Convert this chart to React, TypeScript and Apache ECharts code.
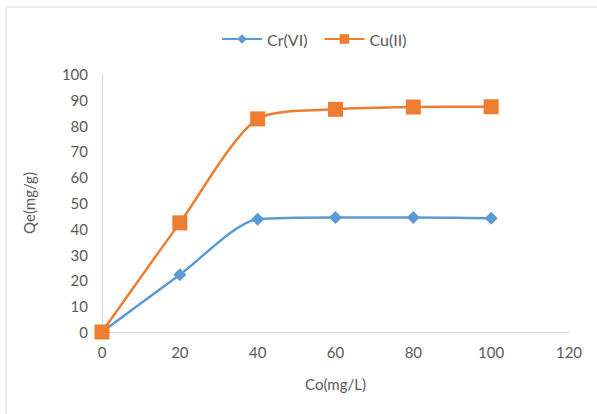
import React, { useEffect, useRef } from "react";
import * as echarts from "echarts";

const xValues = [0, 20, 40, 60, 80, 100];
const crValues = [0, 22.2, 43.7, 44.4, 44.4, 44.1];
const cuValues = [0, 42.3, 82.6, 86.3, 87.2, 87.3];

const FONT = "Lato, 'Open Sans', sans-serif";
const TEXT = "#595959";

export default function App() {
  const ref = useRef<HTMLDivElement>(null);
  useEffect(() => {
    if (!ref.current) return;
    const chart = echarts.init(ref.current, undefined, { renderer: "svg" });
    chart.setOption({
      animation: false,
      backgroundColor: "#ffffff",
      textStyle: { fontFamily: FONT },
      graphic: [
        {
          type: "rect",
          shape: { x: 6, y: 7, width: 620, height: 440 },
          style: { fill: "none", stroke: "#d9d9d9", lineWidth: 1 },
          silent: true,
        },
      ],
      legend: {
        top: 26,
        left: 216,
        itemWidth: 40,
        itemHeight: 12,
        itemGap: 16,
        textStyle: { color: TEXT, fontSize: 16, fontFamily: FONT },
        data: ["Cr(VI)", "Cu(II)"],
      },
      grid: { left: 102, right: 28, top: 74, bottom: 82, containLabel: false },
      xAxis: {
        type: "value",
        min: 0,
        max: 120,
        interval: 20,
        name: "Co(mg/L)",
        nameLocation: "middle",
        nameGap: 44,
        nameTextStyle: { color: TEXT, fontSize: 15, fontFamily: FONT },
        axisLine: { show: true, lineStyle: { color: "#d9d9d9", width: 1 } },
        axisTick: { show: false },
        splitLine: { show: false },
        axisLabel: { color: TEXT, fontSize: 15, margin: 12, fontFamily: FONT },
      },
      yAxis: {
        type: "value",
        min: 0,
        max: 100,
        interval: 10,
        name: "Qe(mg/g)",
        nameLocation: "middle",
        nameGap: 66,
        nameRotate: 90,
        nameTextStyle: { color: TEXT, fontSize: 15, fontFamily: FONT },
        axisLine: { show: true, lineStyle: { color: "#d9d9d9", width: 1 } },
        axisTick: { show: false },
        splitLine: { show: false },
        axisLabel: { color: TEXT, fontSize: 15, margin: 14, fontFamily: FONT },
      },
      series: [
        {
          name: "Cr(VI)",
          type: "line",
          data: xValues.map((x, i) => [x, crValues[i]]),
          smooth: 0.25,
          symbol: "diamond",
          symbolSize: 13,
          lineStyle: { color: "#5B9BD5", width: 2.5 },
          itemStyle: { color: "#5B9BD5" },
          z: 3,
        },
        {
          name: "Cu(II)",
          type: "line",
          data: xValues.map((x, i) => [x, cuValues[i]]),
          smooth: 0.25,
          symbol: "rect",
          symbolSize: 15,
          lineStyle: { color: "#ED7D31", width: 2.5 },
          itemStyle: { color: "#ED7D31" },
          z: 4,
        },
      ],
    });
    return () => chart.dispose();
  }, []);
  return (
    <div
      ref={ref}
      style={{ position: "fixed", left: 0, top: 0, width: 597, height: 414 }}
    />
  );
}
